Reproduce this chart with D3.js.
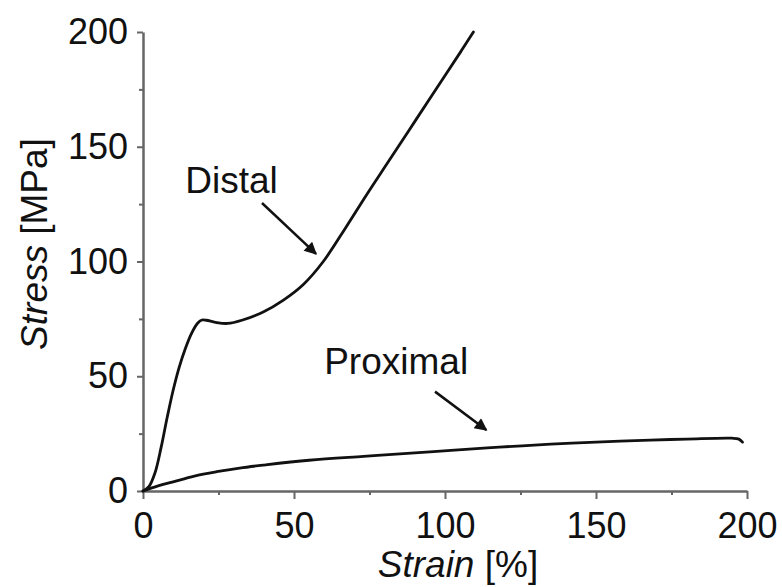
<!DOCTYPE html>
<html>
<head>
<meta charset="utf-8">
<script src="https://cdn.jsdelivr.net/npm/d3@7"></script>
<style>
  html, body { margin: 0; padding: 0; background: #fff; }
  text { font-family: "Liberation Sans", Arial, sans-serif; fill: #111; }
</style>
</head>
<body>
<svg id="chart" width="782" height="587"></svg>
<script>
// ---- data (strain %, stress MPa) ----
const distalStrain = [0, 2, 4, 6, 8, 10, 12, 14, 16, 18, 19.5, 21, 24, 28, 33, 39.8, 46.5, 53.1, 59.7, 67, 74, 81, 88, 95, 101, 105.5, 109.4];
const distalStress = [0, 2, 8, 19, 32, 44, 54, 62, 68.5, 73, 74.5, 74.4, 73.5, 73, 74.5, 78, 83.2, 90, 100, 114.5, 129, 143, 157, 171, 183, 192, 200];
const proximalStrain = [0, 5, 10, 17, 24.4, 32, 40, 55, 73, 90, 102, 118, 135, 150, 168, 180, 195, 197.3, 198.5];
const proximalStress = [0, 2.2, 4, 6.5, 8.4, 10, 11.3, 13.4, 15.1, 16.6, 17.7, 19.1, 20.4, 21.3, 22.2, 22.6, 23, 22.6, 21.3];
const xTicks = [0, 50, 100, 150, 200];
const yTicks = [0, 50, 100, 150, 200];
const minorTicks = [25, 75, 125, 175];
const labels = ["Distal", "Proximal"];
const labelAnchor = [[14, 130], [60, 51]];       // label start (strain, stress)
const arrowFrom = [[39.4, 125.5], [96.7, 43.3]];
const arrowTo = [[57.3, 103.3], [113.7, 26.6]];

const svg = d3.select("#chart");
const x = d3.scaleLinear().domain([0, 200]).range([143, 747]);
const y = d3.scaleLinear().domain([0, 200]).range([491, 32]);
const axisColor = "#666";

// arrow marker
svg.append("defs").append("marker")
  .attr("id", "ah").attr("viewBox", "0 0 10 10").attr("refX", 9).attr("refY", 5)
  .attr("markerWidth", 6).attr("markerHeight", 5).attr("markerUnits", "strokeWidth")
  .attr("orient", "auto")
  .append("path").attr("d", "M0,0 L10,5 L0,10 Z").attr("fill", "#111");

// axes
const gx = svg.append("g").attr("transform", `translate(0,${y(0)})`)
  .call(d3.axisBottom(x).tickValues(xTicks).tickSize(8).tickSizeOuter(0));
const gy = svg.append("g").attr("transform", `translate(${x(0)},0)`)
  .call(d3.axisLeft(y).tickValues(yTicks).tickSize(6).tickSizeOuter(0));
// minor ticks
svg.append("g").attr("transform", `translate(0,${y(0)})`)
  .call(d3.axisBottom(x).tickValues(minorTicks).tickSize(4).tickFormat(""))
  .select(".domain").remove();
svg.append("g").attr("transform", `translate(${x(0)},0)`)
  .call(d3.axisLeft(y).tickValues(minorTicks).tickSize(4).tickFormat(""))
  .select(".domain").remove();

svg.selectAll(".domain").attr("stroke", axisColor).attr("stroke-width", 2.5);
svg.selectAll(".tick line").attr("stroke", axisColor).attr("stroke-width", 2);
gx.selectAll(".tick text").attr("y", 47).attr("dy", 0)
  .style("font-size", "36px").attr("fill", "#111");
gy.selectAll(".tick text").attr("x", -15).attr("dy", "0.32em")
  .style("font-size", "36px").attr("fill", "#111");

// curves
const line = d3.line().x(d => x(d[0])).y(d => y(d[1])).curve(d3.curveCatmullRom.alpha(0.5));
const distal = distalStrain.map((v, i) => [v, distalStress[i]]);
const proximal = proximalStrain.map((v, i) => [v, proximalStress[i]]);
[distal, proximal].forEach(data => {
  svg.append("path").datum(data).attr("d", line)
    .attr("fill", "none").attr("stroke", "#111").attr("stroke-width", 2.8)
    .attr("stroke-linejoin", "round").attr("stroke-linecap", "round");
});

// annotations
labels.forEach((t, i) => {
  svg.append("text").attr("x", x(labelAnchor[i][0])).attr("y", y(labelAnchor[i][1]))
    .style("font-size", "37px").text(t);
  svg.append("line")
    .attr("x1", x(arrowFrom[i][0])).attr("y1", y(arrowFrom[i][1]))
    .attr("x2", x(arrowTo[i][0])).attr("y2", y(arrowTo[i][1]))
    .attr("stroke", "#111").attr("stroke-width", 2.5).attr("marker-end", "url(#ah)");
});

// axis titles
const xt = svg.append("text").attr("x", 458).attr("y", 577)
  .attr("text-anchor", "middle").style("font-size", "37px");
xt.append("tspan").style("font-style", "italic").text("Strain");
xt.append("tspan").text(" [%]");

const yt = svg.append("text").attr("transform", "translate(47,244) rotate(-90)")
  .attr("text-anchor", "middle").style("font-size", "37px");
yt.append("tspan").style("font-style", "italic").text("Stress");
yt.append("tspan").text(" [MPa]");
</script>
</body>
</html>
